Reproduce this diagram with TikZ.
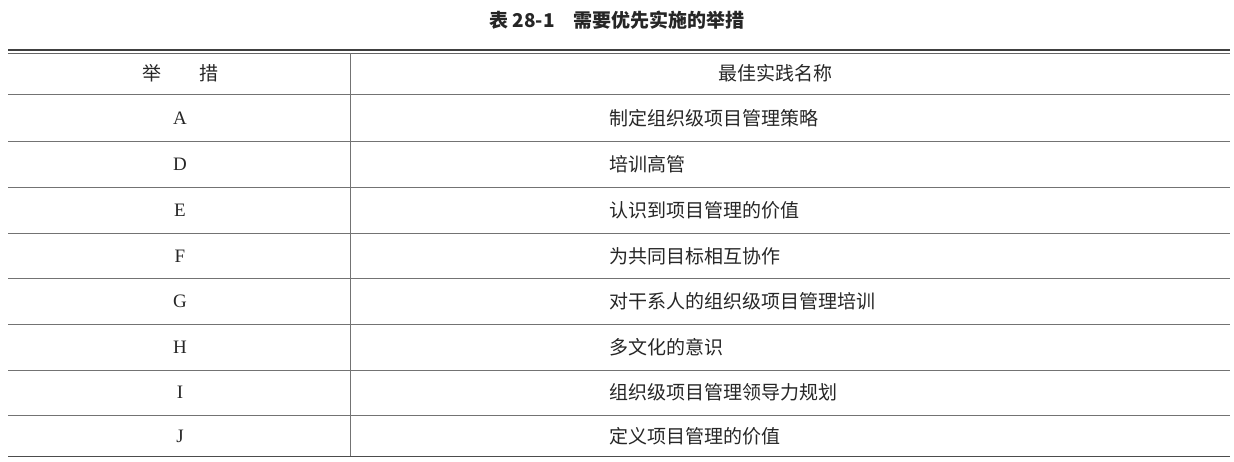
\documentclass[tikz,border=0pt]{standalone}
\usepackage{fontspec}
\setmainfont{Liberation Serif}
\newfontfamily\cjk{Noto Sans CJK SC}
\begin{document}
\begin{tikzpicture}[x=1pt,y=-1pt,
  cell/.style={font=\cjk\fontsize{19}{22}\selectfont,text=black!85},
  rowline/.style={draw=black!55,line width=0.6pt}]
\useasboundingbox (0,0) rectangle (1234,462);
\node[cell,font=\cjk\bfseries\fontsize{19}{22}\selectfont] (title) at (617,20) {表 28-1\quad 需要优先实施的举措};
\draw[line width=1.2pt,black!75] (8,50) -- (1230,50);
\draw[line width=0.5pt,black!60] (8,53) -- (1230,53);
\draw[rowline] (8,94) -- (1230,94);
\foreach \y in {141,187,233,278,324,370,415} \draw[rowline] (8,\y) -- (1230,\y);
\draw[line width=1pt,black!70] (8,456) -- (1230,456);
\draw[rowline] (350,53) -- (350,456);
\node[cell] (h1) at (180,73) {举\qquad 措};
\node[cell] (h2) at (775,73) {最佳实践名称};
\foreach \l/\t/\y in {A/制定组织级项目管理策略/118, D/培训高管/164, E/认识到项目管理的价值/210, F/为共同目标相互协作/256, G/对干系人的组织级项目管理培训/301, H/多文化的意识/347, I/组织级项目管理领导力规划/392, J/定义项目管理的价值/436}{
  \node[cell,font=\fontsize{19}{22}\selectfont] (l\l) at (180,\y) {\l};
  \node[cell,anchor=west] (t\l) at (606,\y) {\t};
}
\end{tikzpicture}
\end{document}
